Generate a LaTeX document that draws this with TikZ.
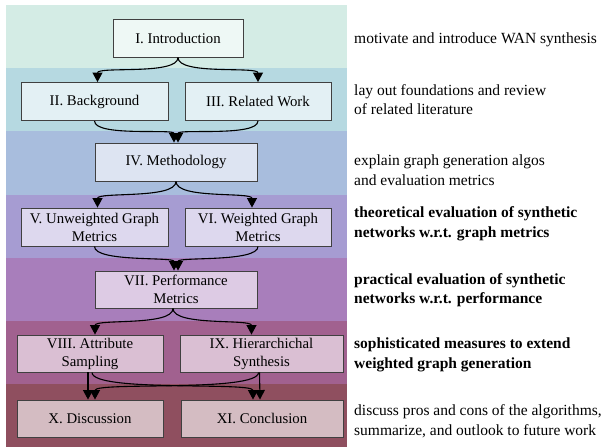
\documentclass[tikz,border=0pt]{standalone}
\usepackage{fontspec}
\setmainfont{Liberation Serif}
\usepackage{xcolor}
\usetikzlibrary{arrows.meta}

\definecolor{bandA}{HTML}{D4ECE5}
\definecolor{bandB}{HTML}{B6D9E1}
\definecolor{bandC}{HTML}{A8BDDD}
\definecolor{bandD}{HTML}{A69CD2}
\definecolor{bandE}{HTML}{A87EBB}
\definecolor{bandF}{HTML}{A1618F}
\definecolor{bandG}{HTML}{8F4F5F}
\definecolor{boxA}{HTML}{EEF8F5}
\definecolor{boxB}{HTML}{E3F0F4}
\definecolor{boxC}{HTML}{DDE4F2}
\definecolor{boxD}{HTML}{DDD8EE}
\definecolor{boxE}{HTML}{DDCBE4}
\definecolor{boxF}{HTML}{DABFD3}
\definecolor{boxG}{HTML}{D4BCC2}

\begin{document}
\begin{tikzpicture}[
  x=1pt, y=-1pt,
  section/.style={
    rectangle,
    draw=black!75,
    line width=0.9pt,
    minimum height=38pt,
    inner sep=0pt,
    align=center,
    font=\fontsize{14.8}{18}\selectfont
  },
  summary/.style={
    anchor=west,
    align=left,
    inner sep=0pt,
    font=\fontsize{15.5}{19.5}\selectfont
  },
  edge/.style={
    -{Triangle[length=9.5pt,width=10pt]},
    line width=1.1pt,
    draw=black
  }
]

\useasboundingbox (0,0) rectangle (605,447);

% Background bands (one per chapter group)
\foreach \c [count=\i from 0] in {bandA,bandB,bandC,bandD,bandE,bandF,bandG}
  \fill[\c] (6,5+63.2*\i) rectangle (347,5+63.2*\i+63.2);

% Sections
\node[section, fill=boxA, minimum width=130pt] (intro) at (178,38) {I. Introduction};
\node[section, fill=boxB, minimum width=147pt] (backgr) at (94.5,101.5) {II. Background};
\node[section, fill=boxB, minimum width=146pt] (related) at (258,101.5) {III. Related Work};
\node[section, fill=boxC, minimum width=162pt] (method) at (176,162) {IV. Methodology};
\node[section, fill=boxD, minimum width=147pt] (unweighted) at (94.5,227) {V. Unweighted Graph\\Metrics};
\node[section, fill=boxD, minimum width=146pt] (weighted) at (258,227) {VI. Weighted Graph\\Metrics};
\node[section, fill=boxE, minimum width=162pt, minimum height=37pt] (perf) at (176,289.5) {VII. Performance\\Metrics};
\node[section, fill=boxF, minimum width=146pt, minimum height=37pt] (attr) at (90,353.5) {VIII. Attribute\\Sampling};
\node[section, fill=boxF, minimum width=163pt, minimum height=37pt] (hier) at (261.5,353.5) {IX. Hierarchichal\\Synthesis};
\node[section, fill=boxG, minimum width=146pt, minimum height=37pt] (disc) at (90,418.5) {X. Discussion};
\node[section, fill=boxG, minimum width=162pt, minimum height=37pt] (concl) at (262,418.5) {XI. Conclusion};

% Summaries
\node[summary] (sumA) at (354,40) {motivate and introduce WAN synthesis};
\node[summary] (sumB) at (354,99.5) {lay out foundations and review\\of related literature};
\node[summary] (sumC) at (354,170) {explain graph generation algos\\and evaluation metrics};
\node[summary, font=\fontsize{15.5}{19.5}\selectfont\bfseries] (sumD) at (354,224) {theoretical evaluation of synthetic\\networks w.r.t. graph metrics};
\node[summary, font=\fontsize{15.5}{19.5}\selectfont\bfseries] (sumE) at (354,290) {practical evaluation of synthetic\\networks w.r.t. performance};
\node[summary, font=\fontsize{15.5}{19.5}\selectfont\bfseries] (sumF) at (354,355) {sophisticated measures to extend\\weighted graph generation};
\node[summary] (sumG) at (354,421) {discuss pros and cons of the algorithms,\\summarize, and outlook to future work};

% Dependencies
\draw[edge] (intro.south) .. controls +(0,18) and +(0,-16) .. ([xshift=3pt]backgr.north);
\draw[edge] (intro.south) .. controls +(0,18) and +(0,-16) .. (related.north);
\draw[edge] (backgr.south) .. controls +(0,16) and +(0,-14) .. ([xshift=-2pt]method.north);
\draw[edge] (related.south) .. controls +(0,16) and +(0,-14) .. ([xshift=2pt]method.north);
\draw[edge] (method.south) .. controls +(0,18) and +(0,-16) .. ([xshift=3pt]unweighted.north);
\draw[edge] (method.south) .. controls +(0,18) and +(0,-16) .. ([xshift=-6pt]weighted.north);
\draw[edge] (unweighted.south) .. controls +(0,16) and +(0,-14) .. ([xshift=-2pt]perf.north);
\draw[edge] (weighted.south) .. controls +(0,16) and +(0,-14) .. ([xshift=2pt]perf.north);
\draw[edge] ([xshift=-3pt]perf.south) .. controls +(0,18) and +(0,-16) .. ([xshift=5pt]attr.north);
\draw[edge] ([xshift=-3pt]perf.south) .. controls +(0,18) and +(0,-16) .. ([xshift=-10pt]hier.north);
\draw[edge] ([xshift=-2pt]attr.south) -- ([xshift=-2pt]disc.north);
\draw[edge] ([xshift=2pt]attr.south) .. controls +(0,20) and +(0,-18) .. ([xshift=-9pt]concl.north);
\draw[edge] ([xshift=-2pt]hier.south) -- ([xshift=-2pt]concl.north);
\draw[edge] ([xshift=-3pt]hier.south) .. controls +(0,20) and +(0,-18) .. ([xshift=5pt]disc.north);

\end{tikzpicture}
\end{document}
